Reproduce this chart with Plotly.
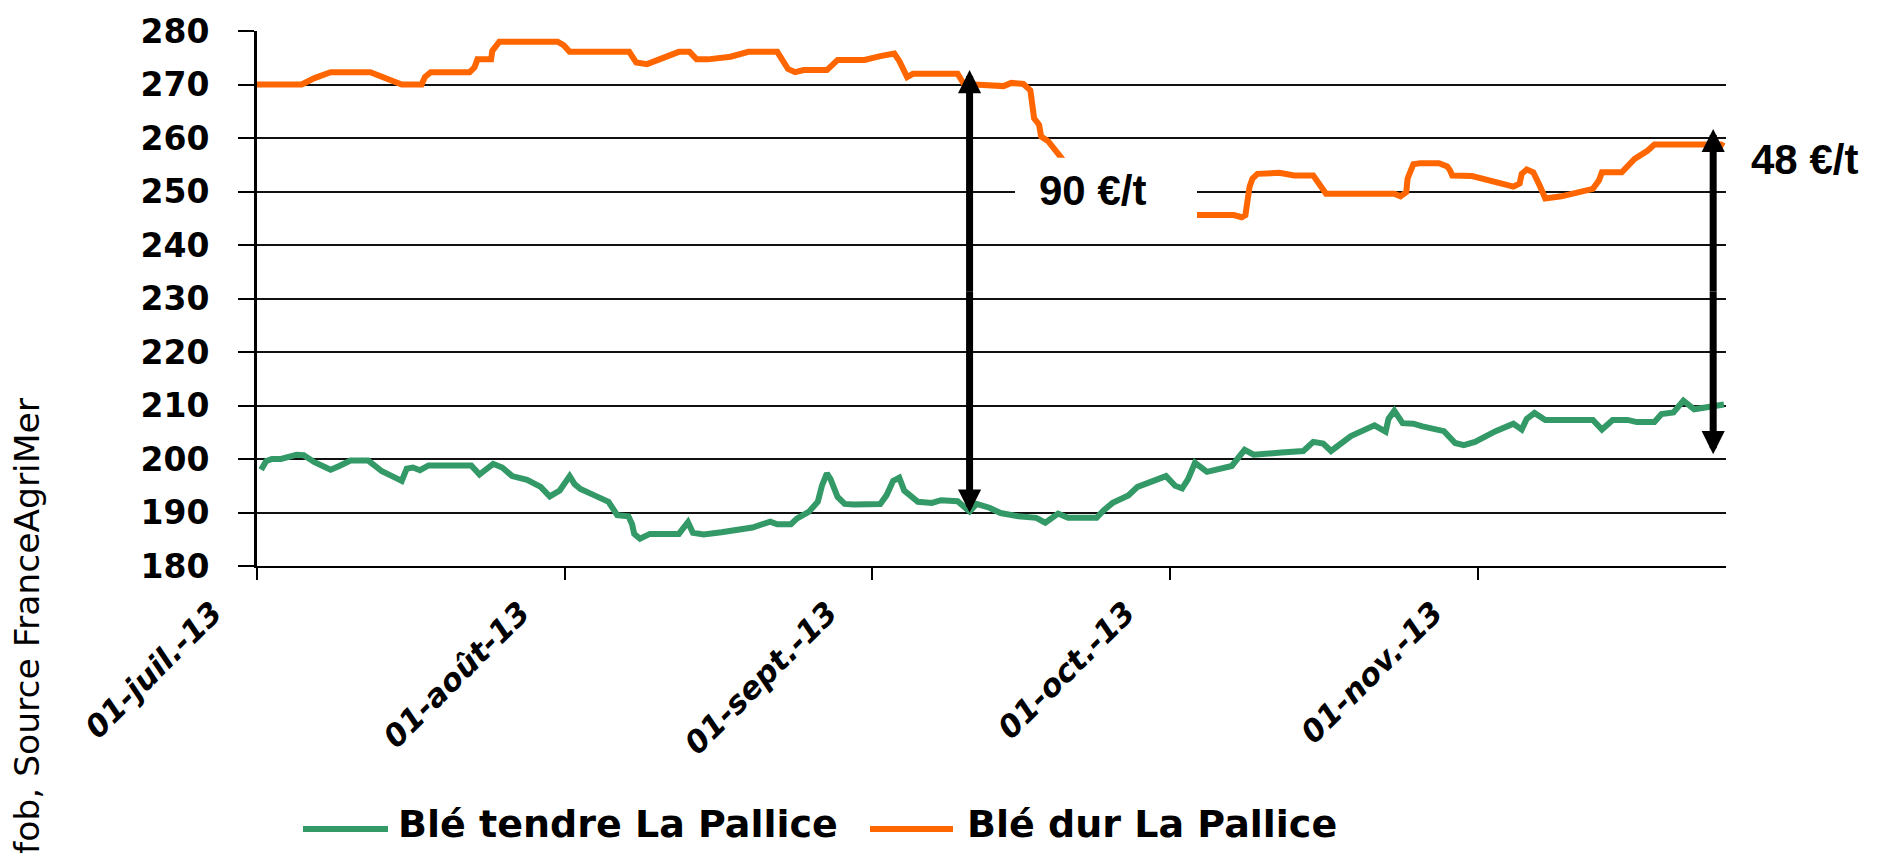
import plotly.graph_objects as go

# --- Prix fob La Pallice (€/t) ---------------------------------------------
dur_dates = [
    "2013-07-01 00:00", "2013-07-05 12:00", "2013-07-06 19:00", "2013-07-08 10:00",
    "2013-07-12 10:00", "2013-07-13 19:00", "2013-07-15 14:00", "2013-07-17 14:00",
    "2013-07-17 22:00", "2013-07-18 12:00", "2013-07-22 10:00", "2013-07-22 22:00",
    "2013-07-23 05:00", "2013-07-24 14:00", "2013-07-24 17:00", "2013-07-25 10:00",
    "2013-07-31 07:00", "2013-07-31 22:00", "2013-08-01 12:00", "2013-08-07 12:00",
    "2013-08-08 05:00", "2013-08-09 07:00", "2013-08-11 10:00", "2013-08-12 12:00",
    "2013-08-13 14:00", "2013-08-14 07:00", "2013-08-15 10:00", "2013-08-17 17:00",
    "2013-08-19 12:00", "2013-08-22 10:00", "2013-08-23 12:00", "2013-08-24 05:00",
    "2013-08-25 02:00", "2013-08-27 10:00", "2013-08-28 12:00", "2013-08-31 05:00",
    "2013-09-01 19:00", "2013-09-02 17:00", "2013-09-03 05:00", "2013-09-03 17:00",
    "2013-09-04 12:00", "2013-09-05 02:00", "2013-09-09 14:00", "2013-09-10 05:00",
    "2013-09-14 05:00", "2013-09-15 00:00", "2013-09-16 05:00", "2013-09-16 22:00",
    "2013-09-17 07:00", "2013-09-17 19:00", "2013-09-18 00:00", "2013-09-18 17:00",
    "2013-09-19 12:00", "2013-09-20 00:00", "2013-09-21 00:00", "2013-09-23 00:00",
    "2013-09-25 00:00", "2013-09-27 00:00", "2013-10-04 05:00", "2013-10-07 10:00",
    "2013-10-08 05:00", "2013-10-08 14:00", "2013-10-09 00:00", "2013-10-09 07:00",
    "2013-10-09 19:00", "2013-10-10 17:00", "2013-10-12 00:00", "2013-10-13 12:00",
    "2013-10-15 10:00", "2013-10-16 05:00", "2013-10-16 17:00", "2013-10-23 14:00",
    "2013-10-24 05:00", "2013-10-24 19:00", "2013-10-24 22:00", "2013-10-25 12:00",
    "2013-10-26 05:00", "2013-10-28 02:00", "2013-10-28 22:00", "2013-10-29 05:00",
    "2013-10-29 10:00", "2013-10-31 10:00", "2013-11-01 12:00", "2013-11-02 19:00",
    "2013-11-04 14:00", "2013-11-05 05:00", "2013-11-05 10:00", "2013-11-05 22:00",
    "2013-11-06 14:00", "2013-11-07 05:00", "2013-11-07 19:00", "2013-11-09 10:00",
    "2013-11-11 14:00", "2013-11-12 14:00", "2013-11-13 05:00", "2013-11-13 12:00",
    "2013-11-15 12:00", "2013-11-16 19:00", "2013-11-18 02:00", "2013-11-18 19:00",
    "2013-11-25 12:00", "2013-11-25 19:00",
]
dur_prix = [
    270.0, 270.0, 271.2, 272.3, 272.3, 271.4, 270.0, 270.0,
    271.4, 272.3, 272.3, 273.2, 274.7, 274.7, 276.3, 278.0,
    278.0, 277.3, 276.1, 276.1, 274.1, 273.8, 275.3, 276.1,
    276.1, 274.7, 274.7, 275.2, 276.1, 276.1, 272.9, 272.3,
    272.7, 272.7, 274.6, 274.6, 275.3, 275.5, 275.8, 274.4,
    271.4, 272.0, 272.0, 270.1, 269.7, 270.3, 270.1, 268.9,
    263.7, 262.5, 260.3, 259.4, 257.3, 256.4, 254.0, 250.0,
    246.5, 245.6, 245.6, 245.6, 245.2, 245.6, 250.9, 252.4,
    253.3, 253.5, 253.5, 253.0, 253.0, 250.9, 249.6, 249.6,
    249.1, 249.9, 252.4, 255.1, 255.3, 255.3, 254.7, 253.9,
    253.0, 252.9, 252.4, 251.6, 250.9, 251.5, 253.3, 254.1,
    253.6, 251.2, 248.7, 249.1, 249.9, 250.5, 252.1, 253.6,
    253.6, 256.1, 257.6, 258.8, 258.8, 258.5,
]

tendre_dates = [
    "2013-07-01 10:00", "2013-07-01 22:00", "2013-07-02 12:00", "2013-07-03 10:00",
    "2013-07-05 00:00", "2013-07-05 17:00", "2013-07-06 19:00", "2013-07-08 10:00",
    "2013-07-09 07:00", "2013-07-10 10:00", "2013-07-12 05:00", "2013-07-13 14:00",
    "2013-07-14 17:00", "2013-07-15 14:00", "2013-07-16 02:00", "2013-07-16 17:00",
    "2013-07-17 10:00", "2013-07-18 07:00", "2013-07-22 14:00", "2013-07-23 10:00",
    "2013-07-24 19:00", "2013-07-25 17:00", "2013-07-26 17:00", "2013-07-28 05:00",
    "2013-07-29 14:00", "2013-07-30 12:00", "2013-07-31 12:00", "2013-08-01 12:00",
    "2013-08-02 00:00", "2013-08-02 14:00", "2013-08-04 00:00", "2013-08-05 10:00",
    "2013-08-06 07:00", "2013-08-07 10:00", "2013-08-07 19:00", "2013-08-08 00:00",
    "2013-08-08 14:00", "2013-08-09 14:00", "2013-08-12 12:00", "2013-08-13 10:00",
    "2013-08-13 22:00", "2013-08-15 00:00", "2013-08-16 19:00", "2013-08-19 22:00",
    "2013-08-21 17:00", "2013-08-22 10:00", "2013-08-23 19:00", "2013-08-24 10:00",
    "2013-08-25 14:00", "2013-08-26 12:00", "2013-08-26 22:00", "2013-08-27 10:00",
    "2013-08-27 19:00", "2013-08-28 12:00", "2013-08-29 05:00", "2013-08-30 02:00",
    "2013-09-01 19:00", "2013-09-02 10:00", "2013-09-03 02:00", "2013-09-03 17:00",
    "2013-09-04 05:00", "2013-09-05 14:00", "2013-09-07 00:00", "2013-09-07 22:00",
    "2013-09-09 14:00", "2013-09-10 19:00", "2013-09-11 12:00", "2013-09-12 19:00",
    "2013-09-13 22:00", "2013-09-15 17:00", "2013-09-17 12:00", "2013-09-18 10:00",
    "2013-09-19 17:00", "2013-09-20 17:00", "2013-09-23 14:00", "2013-09-24 07:00",
    "2013-09-25 05:00", "2013-09-26 19:00", "2013-09-27 17:00", "2013-09-29 05:00",
    "2013-09-30 14:00", "2013-10-01 12:00", "2013-10-02 05:00", "2013-10-02 19:00",
    "2013-10-03 12:00", "2013-10-04 17:00", "2013-10-07 05:00", "2013-10-08 12:00",
    "2013-10-09 10:00", "2013-10-12 05:00", "2013-10-14 10:00", "2013-10-15 10:00",
    "2013-10-16 10:00", "2013-10-17 05:00", "2013-10-19 05:00", "2013-10-21 14:00",
    "2013-10-22 17:00", "2013-10-23 00:00", "2013-10-23 14:00", "2013-10-24 10:00",
    "2013-10-25 12:00", "2013-10-26 10:00", "2013-10-28 14:00", "2013-10-29 17:00",
    "2013-10-30 14:00", "2013-10-31 17:00", "2013-11-02 19:00", "2013-11-04 14:00",
    "2013-11-05 10:00", "2013-11-05 22:00", "2013-11-06 17:00", "2013-11-07 19:00",
    "2013-11-12 14:00", "2013-11-13 12:00", "2013-11-14 14:00", "2013-11-16 02:00",
    "2013-11-17 00:00", "2013-11-18 19:00", "2013-11-19 12:00", "2013-11-20 17:00",
    "2013-11-21 17:00", "2013-11-22 19:00", "2013-11-24 17:00", "2013-11-25 19:00",
]
tendre_prix = [
    198.0, 199.6, 200.0, 200.0, 200.8, 200.7, 199.4, 198.0,
    198.7, 199.7, 199.7, 197.7, 196.7, 195.9, 198.2, 198.4,
    197.9, 198.8, 198.8, 197.1, 199.1, 198.4, 196.8, 196.1,
    194.8, 193.0, 194.1, 196.8, 195.3, 194.4, 193.2, 192.0,
    189.5, 189.3, 187.8, 186.0, 185.1, 186.0, 186.0, 188.2,
    186.2, 185.9, 186.3, 187.2, 188.3, 187.8, 187.8, 188.9,
    190.1, 192.0, 195.0, 197.3, 196.2, 192.9, 191.6, 191.5,
    191.6, 193.2, 195.9, 196.5, 194.1, 192.0, 191.8, 192.3,
    192.1, 190.2, 191.6, 190.9, 189.9, 189.3, 189.0, 188.1,
    189.8, 189.0, 189.0, 190.4, 191.8, 193.2, 194.8, 196.0,
    196.8, 195.0, 194.5, 196.2, 199.3, 197.6, 198.7, 201.7,
    200.8, 201.2, 201.5, 203.2, 202.9, 201.5, 204.3, 206.3,
    205.1, 207.5, 209.0, 206.7, 206.6, 206.1, 205.2, 203.0,
    202.6, 203.2, 205.2, 206.6, 205.5, 207.5, 208.6, 207.3,
    207.3, 205.5, 207.3, 207.3, 206.9, 206.9, 208.4, 208.7,
    210.9, 209.3, 209.9, 210.2,
]

mois_ticks = ["2013-07-01", "2013-08-01", "2013-09-01", "2013-10-01", "2013-11-01"]
mois_labels = ["01-juil.-13", "01-août-13", "01-sept.-13", "01-oct.-13", "01-nov.-13"]
prix_ticks = [180, 190, 200, 210, 220, 230, 240, 250, 260, 270, 280]

# Écarts de prix affichés (flèches doubles)
ecart_sept = dict(date="2013-09-10 19:00", bas=190.0, haut=272.7, texte="90 €/t")
ecart_nov = dict(date="2013-11-24 17:00", bas=200.9, haut=261.7, texte="48 €/t")

series = [
    ("Blé tendre La Pallice", tendre_dates, tendre_prix, "#339966"),
    ("Blé dur La Pallice", dur_dates, dur_prix, "#FF6600"),
]

# --- Mise en page (pixels) ---------------------------------------------------
W, H = 1878, 853
ML, MR, MT, MB = 257, 152, 21, 287
PW, PH = W - ML - MR, H - MT - MB


def fx(px):
    return (px - ML) / PW


def fy(py):
    return (H - MB - py) / PH


fig = go.Figure()
for nom, x, y, couleur in series:
    fig.add_trace(go.Scatter(
        x=x, y=y, mode="lines", name=nom, showlegend=False,
        line=dict(color=couleur, width=6),
    ))

bold = dict(family="DejaVu Sans", color="black", weight="bold")

fig.update_layout(
    width=W, height=H,
    margin=dict(l=ML, r=MR, t=MT, b=MB, pad=0),
    paper_bgcolor="white", plot_bgcolor="white",
    xaxis=dict(
        type="date", range=["2013-07-01", "2013-11-26"],
        tickvals=mois_ticks, ticktext=mois_labels, tickangle=-45,
        tickfont=dict(size=31, style="italic", **bold),
        ticks="outside", ticklen=12, tickwidth=2, tickcolor="black",
        ticklabelshift=-44, ticklabelstandoff=2,
        showgrid=False, showline=True, linecolor="black", linewidth=2,
        zeroline=False,
    ),
    yaxis=dict(
        range=[180, 280], tickvals=prix_ticks,
        tickfont=dict(size=33, **bold),
        ticks="outside", ticklen=16, tickwidth=2, tickcolor="black",
        ticklabelstandoff=22,
        showgrid=True, gridcolor="#111111", gridwidth=2,
        showline=True, linecolor="black", linewidth=3, zeroline=False,
    ),
)

# cartouche blanc du premier écart (masque la courbe)
fig.add_shape(type="rect", xref="paper", yref="paper",
              x0=fx(1015), x1=fx(1197), y0=fy(220), y1=fy(150),
              fillcolor="white", line=dict(width=0), layer="above")

# flèches doubles : deux demi-flèches partant du milieu de l'écart
for e in (ecart_sept, ecart_nov):
    milieu = (e["bas"] + e["haut"]) / 2
    for bout in (e["haut"], e["bas"]):
        fig.add_annotation(
            x=e["date"], y=bout, ax=e["date"], ay=milieu,
            xref="x", yref="y", axref="x", ayref="y", text="",
            font=dict(size=1), borderpad=0, borderwidth=0,
            showarrow=True, arrowhead=2, arrowwidth=7, arrowsize=0.66,
            arrowcolor="black", standoff=0,
        )

lab_font = dict(family="Liberation Sans", size=42, color="black", weight="bold")
fig.add_annotation(x=fx(1092), y=fy(183), xref="paper", yref="paper",
                   text=ecart_sept["texte"], showarrow=False, font=lab_font,
                   xanchor="center", yanchor="middle")
fig.add_annotation(x=fx(1804), y=fy(152), xref="paper", yref="paper",
                   text=ecart_nov["texte"], showarrow=False, font=lab_font,
                   xanchor="center", yanchor="middle")

# titre vertical
fig.add_annotation(x=fx(27), y=fy(627), xref="paper", yref="paper",
                   text="fob, Source FranceAgriMer", textangle=-90,
                   showarrow=False, xanchor="center", yanchor="middle",
                   font=dict(family="DejaVu Sans", size=34.5, color="black"))

# légende
legende = [(303, 388, 397), (870, 953, 966)]
for (nom, _, _, couleur), (l0, l1, t0) in zip(series, legende):
    fig.add_shape(type="line", xref="paper", yref="paper",
                  x0=fx(l0), x1=fx(l1), y0=fy(834), y1=fy(834),
                  line=dict(color=couleur, width=6))
    fig.add_annotation(x=fx(t0), y=fy(852), xref="paper", yref="paper",
                       text=nom, showarrow=False, xanchor="left", yanchor="bottom",
                       borderpad=0, font=dict(size=38, **bold))

fig.write_html("out.html", config={"displayModeBar": False},
               post_script="document.body.style.margin = '0';")
